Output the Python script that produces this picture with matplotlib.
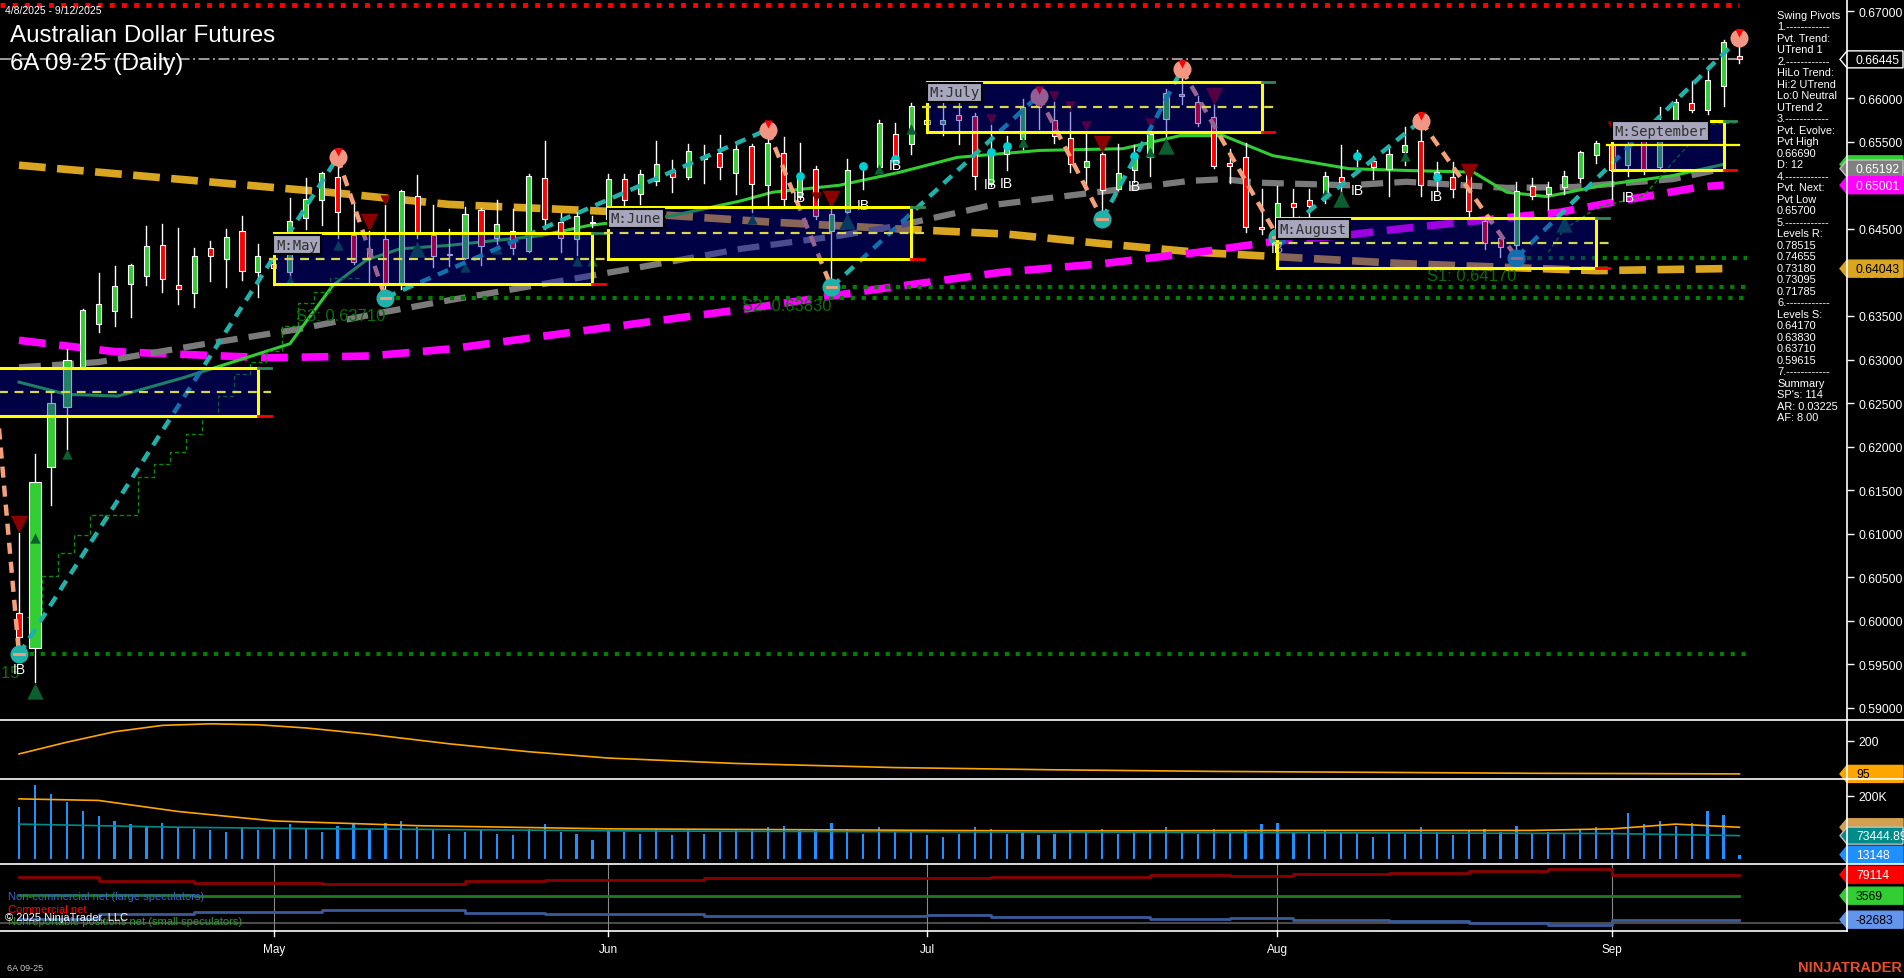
import numpy as np
import pandas as pd
import matplotlib
matplotlib.use('Agg')
import matplotlib.pyplot as plt
from matplotlib.patches import Rectangle, Polygon

plt.rcParams['font.family'] = ['Liberation Sans', 'DejaVu Sans']

# ---------------- data ----------------
holidays = ['2025-04-18', '2025-05-26', '2025-06-19', '2025-07-04', '2025-09-01']
dates = pd.bdate_range('2025-04-08', '2025-09-12')
dates = dates[~dates.isin(pd.to_datetime(holidays))]

opens = [0.6009, 0.5969, 0.6177, 0.6246, 0.6291, 0.6341, 0.6356, 0.6387, 0.6396, 0.6432,
         0.6386, 0.6376, 0.6428, 0.6415, 0.6448, 0.6400, 0.6410, 0.6400, 0.6462, 0.6483,
         0.6510, 0.6443, 0.6427, 0.6438, 0.6387, 0.6488, 0.6443, 0.6421, 0.6417, 0.6472,
         0.6439, 0.6447, 0.6424, 0.6508, 0.6458, 0.6438, 0.6458, 0.6461, 0.6507, 0.6490,
         0.6505, 0.6518, 0.6509, 0.6530, 0.6537, 0.6514, 0.6545, 0.6500, 0.6537, 0.6487,
         0.6519, 0.6447, 0.6469, 0.6521, 0.6521, 0.6559, 0.6547, 0.6575, 0.6570, 0.6581,
         0.6580, 0.6501, 0.6536, 0.6553, 0.6594, 0.6575, 0.6554, 0.6521, 0.6536, 0.6496,
         0.6518, 0.6532, 0.6576, 0.6602, 0.6595, 0.6578, 0.6526, 0.6532, 0.6452, 0.6445,
         0.6480, 0.6483, 0.6485, 0.6509, 0.6530, 0.6528, 0.6519, 0.6538, 0.6551, 0.6510,
         0.6510, 0.6515, 0.6459, 0.6440, 0.6431, 0.6499, 0.6490, 0.6498, 0.6508, 0.6535,
         0.6547, 0.6523, 0.6559, 0.6521, 0.6559, 0.6594, 0.6586, 0.6614, 0.6648]
highs = [0.6101, 0.6192, 0.6264, 0.6312, 0.6358, 0.6399, 0.6407, 0.6410, 0.6453, 0.6456,
         0.6451, 0.6428, 0.6436, 0.6450, 0.6465, 0.6433, 0.6445, 0.6485, 0.6508, 0.6515,
         0.6532, 0.6481, 0.6448, 0.6477, 0.6494, 0.6512, 0.6477, 0.6450, 0.6475, 0.6474,
         0.6483, 0.6473, 0.6513, 0.6551, 0.6468, 0.6469, 0.6465, 0.6513, 0.6513, 0.6518,
         0.6551, 0.6529, 0.6547, 0.6546, 0.6558, 0.6546, 0.6547, 0.6564, 0.6555, 0.6549,
         0.6522, 0.6473, 0.6530, 0.6526, 0.6575, 0.6572, 0.6594, 0.6590, 0.6603, 0.6595,
         0.6583, 0.6569, 0.6556, 0.6599, 0.6603, 0.6596, 0.6584, 0.6561, 0.6538, 0.6547,
         0.6546, 0.6574, 0.6611, 0.6633, 0.6603, 0.6593, 0.6542, 0.6548, 0.6496, 0.6499,
         0.6496, 0.6496, 0.6515, 0.6546, 0.6540, 0.6534, 0.6546, 0.6567, 0.6574, 0.6527,
         0.6527, 0.6520, 0.6461, 0.6446, 0.6504, 0.6508, 0.6504, 0.6516, 0.6539, 0.6551,
         0.6553, 0.6567, 0.6565, 0.6590, 0.6599, 0.6620, 0.6637, 0.6667, 0.6669]
lows = [0.5962, 0.5930, 0.6133, 0.6197, 0.6289, 0.6332, 0.6339, 0.6349, 0.6386, 0.6377,
        0.6364, 0.6360, 0.6390, 0.6383, 0.6391, 0.6372, 0.6385, 0.6387, 0.6450, 0.6454,
        0.6440, 0.6410, 0.6388, 0.6371, 0.6381, 0.6440, 0.6406, 0.6407, 0.6415, 0.6408,
        0.6431, 0.6421, 0.6423, 0.6450, 0.6423, 0.6420, 0.6452, 0.6454, 0.6461, 0.6479,
        0.6500, 0.6492, 0.6507, 0.6503, 0.6507, 0.6490, 0.6469, 0.6477, 0.6477, 0.6484,
        0.6461, 0.6383, 0.6467, 0.6496, 0.6516, 0.6524, 0.6536, 0.6560, 0.6558, 0.6547,
        0.6496, 0.6499, 0.6518, 0.6542, 0.6565, 0.6549, 0.6515, 0.6499, 0.6461, 0.6494,
        0.6504, 0.6511, 0.6557, 0.6593, 0.6568, 0.6520, 0.6503, 0.6446, 0.6444, 0.6441,
        0.6465, 0.6452, 0.6480, 0.6490, 0.6522, 0.6507, 0.6488, 0.6523, 0.6488, 0.6493,
        0.6486, 0.6463, 0.6427, 0.6418, 0.6417, 0.6484, 0.6473, 0.6490, 0.6504, 0.6526,
        0.6484, 0.6511, 0.6513, 0.6519, 0.6553, 0.6584, 0.6582, 0.6591, 0.6640]
closes = [0.5982, 0.6159, 0.6250, 0.6299, 0.6357, 0.6364, 0.6384, 0.6408, 0.6430, 0.6392,
          0.6381, 0.6419, 0.6419, 0.6441, 0.6402, 0.6419, 0.6405, 0.6459, 0.6484, 0.6514,
          0.6469, 0.6412, 0.6418, 0.6386, 0.6493, 0.6444, 0.6419, 0.6420, 0.6467, 0.6430,
          0.6456, 0.6428, 0.6511, 0.6461, 0.6440, 0.6465, 0.6457, 0.6507, 0.6483, 0.6513,
          0.6524, 0.6510, 0.6539, 0.6533, 0.6521, 0.6542, 0.6502, 0.6549, 0.6484, 0.6511,
          0.6465, 0.6467, 0.6518, 0.6520, 0.6571, 0.6530, 0.6591, 0.6570, 0.6575, 0.6575,
          0.6511, 0.6538, 0.6545, 0.6590, 0.6590, 0.6556, 0.6524, 0.6528, 0.6494, 0.6514,
          0.6536, 0.6559, 0.6606, 0.6605, 0.6571, 0.6522, 0.6522, 0.6452, 0.6450, 0.6480,
          0.6475, 0.6476, 0.6511, 0.6504, 0.6536, 0.6521, 0.6536, 0.6546, 0.6500, 0.6515,
          0.6496, 0.6471, 0.6434, 0.6429, 0.6493, 0.6488, 0.6498, 0.6511, 0.6538, 0.6548,
          0.6518, 0.6547, 0.6517, 0.6555, 0.6595, 0.6586, 0.6621, 0.6664, 0.66445]

# moving averages: (bar, value) knots
ma_gold_x = [0, 20, 27, 37, 47, 55, 62, 68, 74, 79, 87, 93, 99, 107]
ma_gold_y = [0.6523, 0.6491, 0.6478, 0.6470, 0.6458, 0.6450, 0.6444, 0.6433, 0.6423,
             0.6418, 0.6410, 0.6406, 0.6402, 0.64043]
ma_mag_x = [0, 6, 15.6, 22, 27, 37, 45.6, 53.6, 61.6, 68, 74, 79, 83, 86.7, 93, 96.7,
            100.5, 105.5, 107]
ma_mag_y = [0.6322, 0.6309, 0.6302, 0.6304, 0.6312, 0.6337, 0.6358, 0.6380, 0.6400,
            0.6410, 0.6423, 0.6436, 0.6442, 0.6450, 0.6462, 0.6469, 0.6482, 0.6498, 0.65001]
ma_gray_x = [0, 5, 11.4, 17.6, 22.8, 27, 32.7, 39, 45.3, 51.5, 55.3, 61, 67.2, 73.5,
             75.6, 77.7, 83.5, 87.1, 93.4, 97.6, 103.8, 107]
ma_gray_y = [0.6291, 0.6297, 0.6317, 0.6335, 0.6354, 0.6368, 0.6386, 0.6406, 0.6427,
             0.6442, 0.6454, 0.6477, 0.6491, 0.6505, 0.6507, 0.6503, 0.6500, 0.6504,
             0.6497, 0.6498, 0.6507, 0.65192]
ma_green_x = [0, 3, 6.2, 10.3, 13.4, 17, 19.7, 21.8, 23.9, 27, 32.7, 35.8, 41, 45.3, 47.3,
              51.5, 55.3, 58.9, 64.1, 69.3, 72.9, 75.6, 78.7, 83.5, 87.1, 91.3, 93.4,
              95.9, 99.7, 103.8, 107]
ma_green_y = [0.6274, 0.6260, 0.6258, 0.6279, 0.6297, 0.6318, 0.6385, 0.6414, 0.6427,
              0.6431, 0.6442, 0.6454, 0.6465, 0.6482, 0.6492, 0.6500, 0.6515, 0.6532,
              0.6540, 0.6542, 0.6557, 0.6557, 0.6534, 0.6519, 0.6517, 0.6515, 0.6492,
              0.6487, 0.6501, 0.6511, 0.6524]

# swing pivots (bar, price, kind)
pivot_bars = [0, 20, 23, 47, 51, 64, 68, 73, 79, 88, 94, 108]
pivot_prices = [0.59615, 0.6532, 0.6371, 0.6564, 0.6383, 0.6603, 0.6461, 0.6633,
                0.6441, 0.6574, 0.6417, 0.6669]
pivot_kinds = ['L', 'H', 'L', 'H', 'L', 'H', 'L', 'H', 'L', 'H', 'L', 'H']

# monthly boxes
box_names = ['', 'M:May', 'M:June', 'M:July', 'M:August', 'M:September']
box_start = [-2, 16, 37, 57, 79, 100]
box_end = [15, 36, 56, 78, 99, 107]
box_top = [0.6290, 0.6445, 0.6475, 0.6619, 0.6462, 0.6574]
box_bot = [0.6235, 0.6387, 0.6415, 0.6561, 0.6405, 0.6517]
box_mid = [0.6263, 0.6415, 0.6445, 0.6590, 0.6434, 0.6546]

# support levels
sup_names = ['S1: 0.64170', 'S2: 0.63830', 'S3: 0.63710', 'S4: 0.59615']
sup_vals = [0.64170, 0.63830, 0.63710, 0.59615]
sup_start = [94, 51, 23, 0]

res_line = 0.6707
last_price = 0.66445

up_marks_x = [1, 3, 1, 17, 20, 25, 28, 30, 35, 36, 46, 52, 54, 56, 63, 71, 72, 82, 83, 87, 94, 97]
up_marks_y = [0.6095, 0.6192, 0.5920, 0.6391, 0.6431, 0.6427, 0.6406, 0.6427, 0.6413,
              0.6413, 0.6461, 0.6459, 0.6519, 0.6565, 0.6550, 0.6538, 0.6545, 0.6490,
              0.6484, 0.6534, 0.6415, 0.6456]
up_marks_big = [0, 0, 1, 0, 0, 1, 0, 0, 0, 0, 0, 1, 0, 0, 0, 0, 1, 0, 1, 0, 0, 1]
dn_marks_x = [0, 22, 23, 50, 51, 61, 65, 66, 67, 68, 71, 75, 91, 100]
dn_marks_y = [0.6111, 0.6458, 0.6483, 0.6486, 0.6484, 0.6576, 0.6602, 0.6591, 0.6568,
              0.6547, 0.6571, 0.6602, 0.6515, 0.6568]
dn_marks_big = [1, 1, 0, 0, 1, 0, 0, 0, 0, 1, 0, 1, 1, 0]

ib_x = [0, 49, 53, 55, 61, 62, 70, 79, 84, 89, 101]
ib_y = [0.5945, 0.6486, 0.6477, 0.6523, 0.6501, 0.6503, 0.6499, 0.6428, 0.6495, 0.6488, 0.6487]

cyan_x = [49, 53, 55, 61, 62, 70, 84, 89]
cyan_y = [0.6511, 0.6522, 0.6530, 0.6538, 0.6545, 0.6534, 0.6534, 0.6510]

stop1_x = [0.5, 1.42, 1.42, 2.47, 2.47, 3.45, 3.45, 4.46, 4.46, 7.5, 7.5, 8.5, 8.5, 9.5,
           9.5, 10.5, 10.5, 11.5, 11.5, 12.5, 12.5, 13.5, 13.5, 14.5, 14.5, 15.5, 15.5,
           16.5, 16.5, 17.5, 17.5, 18.5, 18.5, 19.5, 19.5, 21.5]
stop1_y = [0.6005, 0.6005, 0.6052, 0.6052, 0.6078, 0.6078, 0.6099, 0.6099, 0.6122, 0.6122,
           0.6165, 0.6165, 0.6180, 0.6180, 0.6194, 0.6194, 0.6214, 0.6214, 0.6235, 0.6235,
           0.6258, 0.6258, 0.6283, 0.6283, 0.6297, 0.6297, 0.6310, 0.6310, 0.6338, 0.6338,
           0.6365, 0.6365, 0.6377, 0.6377, 0.6393, 0.6393]
stop2_x = [96, 96, 97, 97, 98, 98, 99, 99, 102, 102, 104, 104, 106, 106, 108]
stop2_y = [0.6423, 0.6423, 0.6450, 0.6450, 0.6461, 0.6461, 0.6474, 0.6474, 0.6488,
           0.6488, 0.6530, 0.6530, 0.6570, 0.6570, 0.6572]

# lower panels
osc_x = [0, 3, 6, 9, 12, 15, 18, 22, 27, 32, 37, 45, 55, 65, 75, 85, 95, 102, 108]
osc_y = [158, 195, 228, 248, 253, 250, 240, 220, 190, 165, 145, 128, 115, 108, 103, 100, 97, 96, 95]

volume = [165, 235, 205, 180, 150, 135, 120, 110, 105, 115, 100, 95, 90, 85, 100, 90, 95,
          110, 95, 85, 105, 110, 95, 115, 120, 100, 90, 80, 85, 90, 80, 75, 95, 110, 85,
          80, 60, 90, 85, 80, 95, 75, 90, 80, 85, 90, 95, 100, 105, 90, 95, 115, 95, 80,
          100, 90, 85, 75, 70, 80, 100, 95, 80, 85, 75, 80, 90, 85, 95, 80, 85, 90, 100,
          85, 80, 95, 85, 90, 110, 115, 85, 80, 90, 85, 80, 70, 85, 80, 100, 85, 75, 90,
          95, 85, 105, 80, 85, 80, 95, 100, 95, 145, 110, 120, 105, 115, 150, 140, 13.148]
vol_ma1_x = [0, 5, 10, 16, 25, 37, 50, 65, 80, 95, 100, 104, 108]
vol_ma1_y = [190, 185, 150, 120, 105, 95, 92, 88, 90, 90, 95, 110, 100]
vol_ma2_x = [0, 10, 20, 40, 60, 80, 100, 108]
vol_ma2_y = [110, 100, 95, 88, 85, 83, 80, 73.44489]

# weekly COT net positions (step changes at these bars)
cot_x = [0, 5, 11, 19, 28, 33, 43, 52, 57, 61, 71, 76, 80, 86, 91, 96, 100, 108]
cot_comm = [72000, 55000, 49000, 46000, 58000, 61000, 67000, 69000, 66000, 71000, 78000,
            75000, 82000, 85000, 94000, 100000, 79114, 79114]
cot_small = [7200, 7200, 1400, 1400, 1400, 1400, 1400, 1400, 1400, 1400, 1400, 1400,
             1400, 1400, 1400, 1400, 3569, 3569]
cot_large = [-79000, -62000, -54000, -47000, -59000, -62600, -68500, -70800, -67000,
             -72000, -79000, -76000, -83000, -86000, -95000, -101000, -82683, -82683]
cot_floor = -95700

months = ['May', 'Jun', 'Jul', 'Aug', 'Sep']
month_bars = [16, 37, 57, 79, 100]

panel_text = ["Swing Pivots", "1.------------", "Pvt. Trend:", "UTrend 1", "2.------------",
              "HiLo Trend:", "Hi:2 UTrend", "Lo:0 Neutral", "UTrend 2", "3.------------",
              "Pvt. Evolve:", "Pvt High", "0.66690", "D: 12", "4.------------", "Pvt. Next:",
              "Pvt Low", "0.65700", "5.------------", "Levels R:", "0.78515", "0.74655",
              "0.73180", "0.73095", "0.71785", "6.------------", "Levels S:", "0.64170",
              "0.63830", "0.63710", "0.59615", "7.------------", "Summary", "SP's: 114",
              "AR: 0.03225", "AF: 8.00"]

# ---------------- figure ----------------
W, H = 1904, 979
fig = plt.figure(figsize=(W / 100, H / 100), dpi=100, facecolor='black')

BAR0, STEP = 19.0, 15.93
XLIM = (-BAR0 / STEP, (1847 - BAR0) / STEP)


def panel(y0, y1):
    ax = fig.add_axes([0, 1 - y1 / H, 1847 / W, (y1 - y0) / H])
    ax.set_facecolor('black')
    ax.set_xlim(*XLIM)
    for s in ax.spines.values():
        s.set_visible(False)
    ax.set_xticks([])
    ax.yaxis.tick_right()
    ax.tick_params(axis='y', colors='white', labelcolor='white', labelsize=8.8,
                   length=5, width=1, pad=3)
    return ax


ax = panel(0, 721)
ax.set_ylim(0.58862, 0.67138)
ax.set_yticks(np.arange(0.590, 0.6701, 0.005))
ax.yaxis.set_major_formatter(plt.FuncFormatter(lambda v, p: f'{v:.5f}'))

n = len(dates)
xs = np.arange(n)

# moving averages
ax.plot(ma_gold_x, ma_gold_y, color='#DAA520', lw=5.5, dashes=(3.5, 1.5), zorder=2,
        solid_capstyle='butt')
ax.plot(ma_mag_x, ma_mag_y, color='#FF00FF', lw=5.5, dashes=(3.5, 1.8), zorder=2)
ax.plot(ma_gray_x, ma_gray_y, color='#7A7A7A', lw=4.5, dashes=(3.5, 1.8), zorder=2)
ax.plot(ma_green_x, ma_green_y, color='#32CD32', lw=2.2, zorder=2)

# support lines
for name, val, st in zip(sup_names, sup_vals, sup_start):
    ax.plot([st, n - 0.5], [val, val], color='#008000', lw=3, ls=(0, (1, 1.6)), zorder=2)
    ax.text(st, val - 0.0021, name, color='#0A6E0A', fontsize=12, ha='right', va='center',
            zorder=2)

ax.plot([XLIM[0], n - 1], [res_line, res_line], color='#FF0000', lw=3.5, ls=(0, (1, 1.5)),
        zorder=2)
ax.plot([XLIM[0], n - 1], [last_price, last_price], color='#A8A8A8', lw=1.3,
        ls=(0, (6, 2, 1, 2)), zorder=2)

# trailing stops
ax.plot(stop1_x, stop1_y, color='#0A8A0A', lw=1, ls=(0, (3, 2)), zorder=2)
ax.plot(stop2_x, stop2_y, color='#0A8A0A', lw=1, ls=(0, (3, 2)), zorder=2)

# candles
for i in range(n):
    o, h, l, c = opens[i], highs[i], lows[i], closes[i]
    ax.plot([i, i], [l, h], color='white', lw=1, zorder=3)
    w = 0.32
    if i == 1:
        w = 0.78
    elif i in (2, 3):
        w = 0.52
    col = '#32CD32' if c >= o else '#FF0000'
    bot, top = min(o, c), max(o, c)
    ax.add_patch(Rectangle((i - w / 2, bot), w, max(top - bot, 0.00004), facecolor=col,
                           edgecolor='white', lw=0.8, zorder=3))

# markers
for x, y, b in zip(up_marks_x, up_marks_y, up_marks_big):
    ax.scatter(x, y, marker='^', s=140 if b else 55, color='#0B5E2E', zorder=3,
               linewidths=0)
for x, y, b in zip(dn_marks_x, dn_marks_y, dn_marks_big):
    ax.scatter(x, y, marker='v', s=160 if b else 55, color='#8B0000', zorder=3,
               linewidths=0)
ax.scatter(cyan_x, cyan_y, s=40, color='#00CED1', zorder=3, linewidths=0)

# swing lines
for k in range(len(pivot_bars) - 1):
    col = '#20B2AA' if pivot_kinds[k] == 'L' else '#F4A07A'
    ax.plot(pivot_bars[k:k + 2], pivot_prices[k:k + 2], color=col, lw=3.2,
            dashes=(2.5, 1.8), zorder=4)
ax.plot([-1.3, 0], [0.6230, pivot_prices[0]], color='#F4A07A', lw=3.2,
        dashes=(2.5, 1.8), zorder=4)
for b, p, k in zip(pivot_bars, pivot_prices, pivot_kinds):
    if k == 'H':
        ax.scatter(b, p, s=170, color='#F09682', zorder=4, linewidths=0)
        ax.scatter(b, p + 0.0006, marker='v', s=35, color='#FF0000', zorder=4, linewidths=0)
    else:
        ax.scatter(b, p, s=170, color='#20B2AA', zorder=4, linewidths=0)
        ax.plot([b - 0.3, b + 0.3], [p, p], color='#F4A07A', lw=2, zorder=4)

for x, y in zip(ib_x, ib_y):
    ax.text(x, y, 'IB', color='white', fontsize=10, ha='center', va='center', zorder=5)

# monthly boxes
for name, s, e, t, b, m in zip(box_names, box_start, box_end, box_top, box_bot, box_mid):
    ax.add_patch(Rectangle((s, b), e - s, t - b, facecolor='#0000B4', alpha=0.38,
                           edgecolor='none', zorder=8))
    ax.add_patch(Rectangle((s, b), e - s, t - b, facecolor='none', edgecolor='#FFFF00',
                           lw=2.2, zorder=8))
    ls = '-' if name == 'M:September' else (0, (4, 3))
    ext = 1.0 if name == 'M:September' else 0.8
    ax.plot([s - 0.3, e + ext], [m, m], color='#D8D850' if ls != '-' else '#FFFF00',
            lw=1.6, ls=ls, zorder=8)
    ax.plot([e, e + 0.8], [t, t], color='#2E8B57', lw=2, zorder=8)
    ax.plot([e, e + 0.8], [b, b], color='#FF0000', lw=2, zorder=8)
    if name:
        ax.text(s + 0.15, (t + m) / 2 + 0.0002, name, color='#303030', fontsize=10,
                family='DejaVu Sans Mono', ha='left', va='center', zorder=9,
                bbox=dict(boxstyle='square,pad=0.2', facecolor='#A6A6BC',
                          edgecolor='black', lw=1.5))

# ---- oscillator panel ----
axa = panel(721, 780)
axa.set_ylim(79, 265)
axa.set_yticks([200])
axa.plot(osc_x, osc_y, color='#FFA500', lw=1.2)

# ---- volume panel ----
axb = panel(780, 865)
axb.set_ylim(-16.5, 253)
axb.set_yticks([200])
axb.set_yticklabels(['200K'])
axb.bar(xs, volume, width=0.14, color='#1E90FF')
axb.plot(vol_ma1_x, vol_ma1_y, color='#FFA500', lw=1.2)
axb.plot(vol_ma2_x, vol_ma2_y, color='#008B8B', lw=1.2)

# ---- COT panel ----
axc = panel(865, 932)
axc.set_ylim(-123400, 117600)
axc.set_yticks([])
axc.axhline(cot_floor, color='#5A5A5A', lw=1.2)
for mb in month_bars:
    axc.axvline(mb, color='#8A8A8A', lw=0.8)
axc.step(cot_x, cot_comm, where='post', color='#8B0000', lw=2)
axc.step(cot_x, cot_small, where='post', color='#1E7B1E', lw=2)
axc.step(cot_x, cot_large, where='post', color='#3A5A9A', lw=2)

# ---------------- overlay (pixel space) ----------------
ov = fig.add_axes([0, 0, 1, 1])
ov.set_xlim(0, W)
ov.set_ylim(H, 0)
ov.axis('off')
ov.patch.set_visible(False)


def ypix(a, v):
    return H - a.transData.transform((0, v))[1]


def xpix(a, v):
    return a.transData.transform((v, 0))[0]


for yy in (721, 780, 865):
    ov.plot([0, W], [yy, yy], color='white', lw=1.2)
ov.plot([0, 1847], [932, 932], color='white', lw=1.2)
ov.plot([1847, 1847], [0, 932], color='white', lw=1.2)

for m, mb in zip(months, month_bars):
    xp = xpix(ax, mb)
    ov.plot([xp, xp], [932, 937], color='white', lw=1)
    ov.text(xp, 950, m, color='white', fontsize=8.5, ha='center', va='center')


def tag(yc, text, face, tcol, edge=None):
    x0, x1, hh = 1840, 1903, 8.5
    pts = [(x0, yc), (x0 + 7, yc - hh), (x1, yc - hh), (x1, yc + hh), (x0 + 7, yc + hh)]
    ov.add_patch(Polygon(pts, closed=True, facecolor=face, edgecolor=edge or face, lw=1))
    ov.text(x0 + 16, yc + 0.5, text, color=tcol, fontsize=8.8, ha='left', va='center')


tag(ypix(ax, last_price), '0.66445', 'black', 'white', edge='white')
tag(ypix(ax, 0.6524), '', '#32CD32', 'white')
tag(ypix(ax, ma_gray_y[-1]), '0.65192', '#808080', 'white', edge='#C0C0C0')
tag(ypix(ax, ma_mag_y[-1]), '0.65001', '#FF00FF', 'white')
tag(ypix(ax, ma_gold_y[-1]), '0.64043', '#DAA520', 'black')
tag(ypix(axa, osc_y[-1]), '95', '#FFA500', 'black')
tag(ypix(axb, 100), '', '#D2A050', 'white')
tag(ypix(axb, vol_ma2_y[-1]), '73444.89', '#008B8B', 'white', edge='#C0C0C0')
tag(ypix(axb, volume[-1]), '13148', '#1E90FF', 'white')
tag(ypix(axc, cot_comm[-1]), '79114', '#FF0000', 'white')
tag(ypix(axc, cot_small[-1]), '3569', '#32CD32', 'black')
tag(ypix(axc, cot_large[-1]), '-82683', '#6495ED', 'black')

for k, line in enumerate(panel_text):
    ov.text(1777, 16 + 11.49 * k, line, color='white', fontsize=7.9, ha='left', va='center')

ov.text(5, 11, '4/8/2025 - 9/12/2025', color='white', fontsize=7.5, ha='left', va='center')
ov.text(10, 36, 'Australian Dollar Futures', color='white', fontsize=17.4, ha='left',
        va='center')
ov.text(10, 64, '6A 09-25 (Daily)', color='white', fontsize=17.4, ha='left', va='center')

ov.text(8, 897, 'Non-commercial net (large speculators)', color='#3C64C8', fontsize=8,
        ha='left', va='center')
ov.text(8, 910, 'Commercial net', color='#FF0000', fontsize=8, ha='left', va='center')
ov.text(8, 922, 'Nonreportable positions net (small speculators)', color='#2E9A2E',
        fontsize=8, ha='left', va='center')
ov.text(5, 918, '\u00a9 2025 NinjaTrader, LLC', color='white', fontsize=8, ha='left',
        va='center')
ov.text(7, 969, '6A 09-25', color='#C8C8C8', fontsize=6.5, ha='left', va='center')
ov.text(1902, 968, 'NINJATRADER', color='#E8502C', fontsize=10.5, fontweight='bold',
        ha='right', va='center')

fig.savefig('out.png', dpi=100, facecolor='black')
